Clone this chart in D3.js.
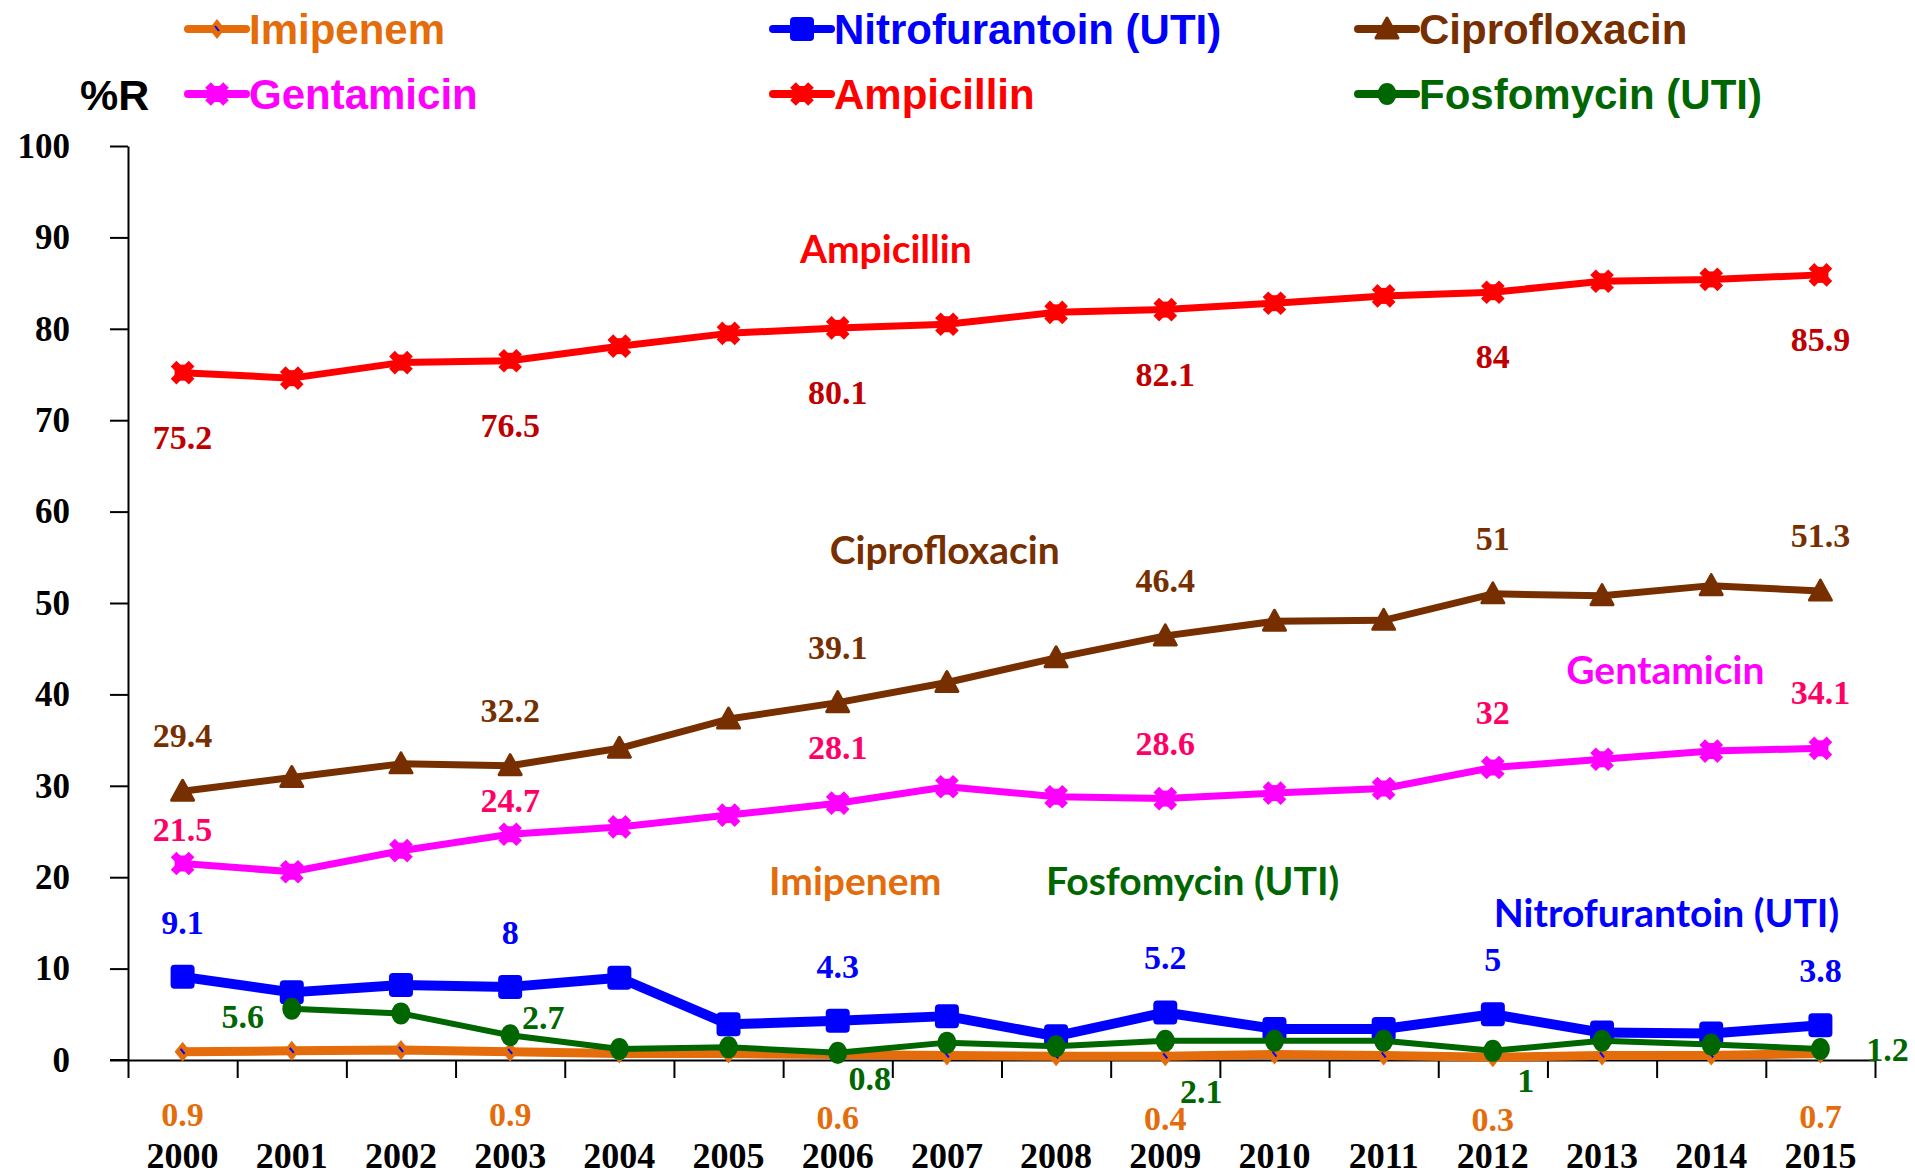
<!DOCTYPE html>
<html>
<head>
<meta charset="utf-8">
<script src="https://cdn.jsdelivr.net/npm/d3@7"></script>
<style>
  body { margin: 0; background: #fff; }
</style>
</head>
<body>
<svg id="chart" width="1915" height="1176"></svg>
<script>
  // ---- data ----
  var years = ["2000", "2001", "2002", "2003", "2004", "2005", "2006", "2007",
               "2008", "2009", "2010", "2011", "2012", "2013", "2014", "2015"];
  var imipenem       = [0.9, 1.0, 1.1, 0.9, 0.7, 0.7, 0.6, 0.5, 0.4, 0.4, 0.6, 0.5, 0.3, 0.5, 0.5, 0.7];
  var gentamicin     = [21.5, 20.6, 22.9, 24.7, 25.5, 26.8, 28.1, 29.9, 28.8, 28.6, 29.2, 29.7, 32, 32.9, 33.8, 34.1];
  var nitrofurantoin = [9.1, 7.4, 8.2, 8, 9.0, 3.9, 4.3, 4.8, 2.6, 5.2, 3.4, 3.4, 5, 3.0, 2.9, 3.8];
  var ampicillin     = [75.2, 74.6, 76.3, 76.5, 78.1, 79.5, 80.1, 80.5, 81.8, 82.1, 82.8, 83.6, 84, 85.2, 85.4, 85.9];
  var ciprofloxacin  = [29.4, 30.9, 32.4, 32.2, 34.1, 37.3, 39.1, 41.3, 44.0, 46.4, 48.0, 48.1, 51, 50.8, 51.9, 51.3];
  var fosfomycin     = [null, 5.6, 5.1, 2.7, 1.2, 1.4, 0.8, 1.9, 1.5, 2.1, 2.1, 2.1, 1, 2.1, 1.7, 1.2];
  var yTicks = [0, 10, 20, 30, 40, 50, 60, 70, 80, 90, 100];

  var svg = d3.select("#chart");
  svg.append("rect").attr("width", 1915).attr("height", 1176).attr("fill", "#fff");

  // scales: categories spread evenly between the axis ends, points at band centres
  var xi = d3.scaleLinear().domain([-0.5, years.length - 0.5]).range([128, 1875]);
  var y = d3.scaleLinear().domain([0, 100]).range([1060, 146]);

  var serif = "'Liberation Serif', 'Times New Roman', serif";
  var arial = "'Liberation Sans', Arial, sans-serif";
  var calibri = "Lato, 'Open Sans', sans-serif";

  // ---- axes ----
  var yAxis = d3.axisLeft(y).tickValues(yTicks).tickSize(18).tickSizeOuter(0).tickPadding(40);
  var gy = svg.append("g").attr("transform", "translate(128,0)").call(yAxis);
  gy.selectAll("text").attr("font-family", serif).attr("font-weight", "bold")
    .attr("font-size", 35).attr("fill", "#000");

  var xAxis = d3.axisBottom(xi).tickValues(d3.range(years.length + 1).map(function(d) {return d - 0.5;}))
    .tickSize(18).tickSizeOuter(0).tickFormat("");
  svg.append("g").attr("transform", "translate(0,1060)").call(xAxis);
  svg.append("line").attr("x1", 110).attr("x2", 128).attr("y1", 1060).attr("y2", 1060);

  svg.selectAll(".domain, .tick line, line").attr("stroke", "#000").attr("stroke-width", 2);

  svg.append("g").selectAll("text").data(years).enter().append("text")
    .attr("x", function(d, i) {return xi(i);})
    .attr("y", 1168)
    .attr("text-anchor", "middle")
    .attr("font-family", serif).attr("font-weight", "bold").attr("font-size", 36)
    .text(function(d) {return d;});

  // ---- markers ----
  function drawMarker(g, type, color) {
    if (type === "diamond") {
      g.append("path").attr("d", "M0,-10L8,0L0,10L-8,0Z").attr("fill", color);
      g.append("path").attr("d", "M-2,-3L2,2").attr("stroke", "#0000ff").attr("stroke-width", 2);
    } else if (type === "square") {
      g.append("rect").attr("x", -12).attr("y", -12).attr("width", 24).attr("height", 24)
        .attr("rx", 4).attr("fill", color);
    } else if (type === "triangle") {
      g.append("path").attr("d", "M0,-11L11,9L-11,9Z").attr("fill", color)
        .attr("stroke", color).attr("stroke-width", 3).attr("stroke-linejoin", "round");
    } else if (type === "star") {
      g.append("rect").attr("x", -8).attr("y", -8).attr("width", 16).attr("height", 16).attr("fill", color);
      g.append("path").attr("d", "M-9,-9L9,9M-9,9L9,-9").attr("stroke", color).attr("stroke-width", 8);
    } else if (type === "circle") {
      g.append("ellipse").attr("rx", 9.5).attr("ry", 11).attr("fill", color);
    }
  }

  // ---- series (draw order: bottom first) ----
  var series = [
    {name: "Imipenem", values: imipenem, color: "#E46C0A", labelColor: "#E46C0A", width: 9, marker: "diamond",
     labels: [{i: 0, dy: 74}, {i: 3, dy: 74}, {i: 6, dy: 74}, {i: 9, dy: 74}, {i: 12, dy: 74}, {i: 15, dy: 74}]},
    {name: "Gentamicin", values: gentamicin, color: "#FF00FF", labelColor: "#FF0066", width: 7, marker: "star",
     labels: [{i: 0, dy: -22}, {i: 3, dy: -22}, {i: 6, dy: -44}, {i: 9, dy: -44}, {i: 12, dy: -44}, {i: 15, dy: -44}]},
    {name: "Nitrofurantoin (UTI)", values: nitrofurantoin, color: "#0000FF", labelColor: "#0000FF", width: 10, marker: "square",
     labels: [{i: 0, dy: -43}, {i: 3, dy: -43}, {i: 6, dy: -43}, {i: 9, dy: -43}, {i: 12, dy: -43}, {i: 15, dy: -43}]},
    {name: "Ampicillin", values: ampicillin, color: "#FF0000", labelColor: "#C00000", width: 7, marker: "star",
     labels: [{i: 0, dy: 76}, {i: 3, dy: 76}, {i: 6, dy: 76}, {i: 9, dy: 76}, {i: 12, dy: 76}, {i: 15, dy: 76}]},
    {name: "Ciprofloxacin", values: ciprofloxacin, color: "#772F00", labelColor: "#772F00", width: 7, marker: "triangle",
     labels: [{i: 0, dy: -44}, {i: 3, dy: -44}, {i: 6, dy: -44}, {i: 9, dy: -44}, {i: 12, dy: -44}, {i: 15, dy: -44}]},
    {name: "Fosfomycin (UTI)", values: fosfomycin, color: "#006600", labelColor: "#006600", width: 6, marker: "circle",
     labels: [{i: 1, dx: -49, dy: 19}, {i: 3, dx: 33, dy: -6}, {i: 6, dx: 32, dy: 37},
              {i: 9, dx: 36, dy: 62}, {i: 12, dx: 33, dy: 41}, {i: 15, dx: 67, dy: 12}]}
  ];

  var line = d3.line()
    .defined(function(d) {return d !== null;})
    .x(function(d, i) {return xi(i);})
    .y(function(d) {return y(d);});

  series.forEach(function(s) {
    var g = svg.append("g");
    g.append("path").attr("d", line(s.values)).attr("fill", "none")
      .attr("stroke", s.color).attr("stroke-width", s.width)
      .attr("stroke-linejoin", "round");
    s.values.forEach(function(v, i) {
      if (v === null) {return;}
      var m = g.append("g").attr("transform", "translate(" + xi(i) + "," + y(v) + ")");
      drawMarker(m, s.marker, s.color);
    });
  });

  // data labels on top of all lines
  series.forEach(function(s) {
    svg.append("g").selectAll("text").data(s.labels).enter().append("text")
      .attr("x", function(d) {return xi(d.i) + (d.dx || 0);})
      .attr("y", function(d) {return y(s.values[d.i]) + d.dy;})
      .attr("text-anchor", "middle")
      .attr("font-family", serif).attr("font-weight", "bold").attr("font-size", 34)
      .attr("fill", s.labelColor)
      .text(function(d) {return s.values[d.i];});
  });

  // ---- series names inside the plot (index, value of baseline) ----
  var notes = [
    {name: "Ampicillin", i: 6.44, v: 87.2, color: "#FF0000"},
    {name: "Ciprofloxacin", i: 6.98, v: 54.3, color: "#772F00"},
    {name: "Gentamicin", i: 13.58, v: 41.1, color: "#FF00FF"},
    {name: "Imipenem", i: 6.16, v: 18.1, color: "#E46C0A"},
    {name: "Fosfomycin (UTI)", i: 9.25, v: 18.1, color: "#006600"},
    {name: "Nitrofurantoin (UTI)", i: 13.59, v: 14.6, color: "#0000FF"}
  ];
  svg.append("g").selectAll("text").data(notes).enter().append("text")
    .attr("x", function(d) {return xi(d.i);})
    .attr("y", function(d) {return y(d.v);})
    .attr("text-anchor", "middle")
    .attr("font-family", calibri).attr("font-weight", "bold").attr("font-size", 39)
    .attr("fill", function(d) {return d.color;})
    .text(function(d) {return d.name;});

  // ---- legend ----
  var legendOrder = ["Imipenem", "Nitrofurantoin (UTI)", "Ciprofloxacin",
                     "Gentamicin", "Ampicillin", "Fosfomycin (UTI)"];
  var colX = [188, 773, 1358];
  var rowY = [29, 94];
  legendOrder.forEach(function(name, k) {
    var s = series.filter(function(d) {return d.name === name;})[0];
    var lx = colX[k % 3], ly = rowY[Math.floor(k / 3)];
    var g = svg.append("g").attr("transform", "translate(" + lx + "," + ly + ")");
    g.append("line").attr("x1", 0).attr("x2", 58).attr("y1", 0).attr("y2", 0)
      .attr("stroke", s.color).attr("stroke-width", 8).attr("stroke-linecap", "round");
    drawMarker(g.append("g").attr("transform", "translate(29,0)"), s.marker, s.color);
    g.append("text").attr("x", 61).attr("y", 15)
      .attr("font-family", arial).attr("font-weight", "bold").attr("font-size", 42)
      .attr("fill", s.color).text(name);
  });

  svg.append("text").attr("x", 80).attr("y", 110)
    .attr("font-family", arial).attr("font-weight", "bold").attr("font-size", 43)
    .text("%R");
</script>
</body>
</html>
